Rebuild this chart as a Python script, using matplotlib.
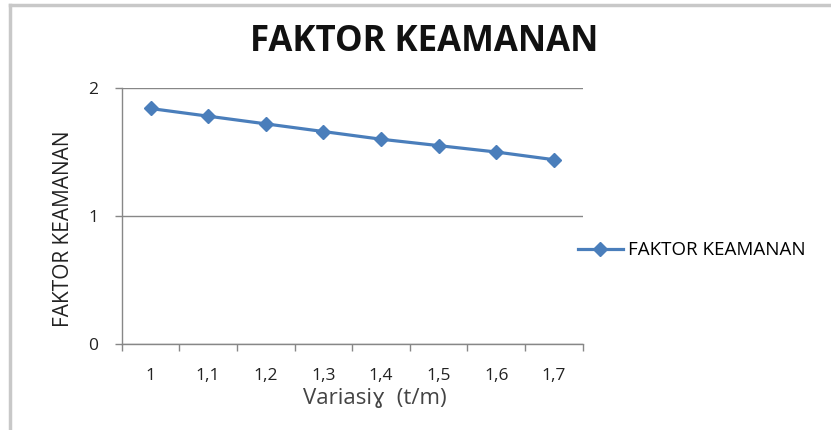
"""Line chart of the safety factor against gamma variation."""

import matplotlib
matplotlib.use("Agg")
import matplotlib.pyplot as plt
import numpy as np
from matplotlib.lines import Line2D

variasi_labels = ["1", "1,1", "1,2", "1,3", "1,4", "1,5", "1,6", "1,7"]
faktor_keamanan = [1.84, 1.78, 1.72, 1.66, 1.60, 1.55, 1.50, 1.44]

BLUE = "#4a7ebb"
GRID = "#878787"

plt.rcParams["font.family"] = ["Open Sans", "DejaVu Sans"]

fig = plt.figure(figsize=(8.31, 4.30), dpi=100)
ax = fig.add_axes([0.1465, 0.2, 0.5547, 0.5953])

x = np.arange(len(faktor_keamanan))
ax.plot(x, faktor_keamanan, color=BLUE, linewidth=2.3, marker="D",
        markersize=7, label="FAKTOR KEAMANAN")

ax.set_xlim(-0.5, len(x) - 0.5)
ax.set_ylim(0, 2)
ax.set_yticks([0, 1, 2])
ax.yaxis.grid(True, color=GRID, linewidth=1.0)
ax.set_axisbelow(True)

# category axis: tick marks between categories, labels in the middle
ax.set_xticks(np.arange(len(x) + 1) - 0.5)
ax.set_xticklabels([])
ax.set_xticks(x, minor=True)
ax.set_xticklabels(variasi_labels, minor=True, fontsize=12.5,
                   color="#222222")
ax.tick_params(axis="x", which="major", length=5, color=GRID, width=1)
ax.tick_params(axis="x", which="minor", length=0, pad=17)
ax.tick_params(axis="y", length=5, color=GRID, width=1, labelsize=12.5,
               labelcolor="#222222", pad=12)

for side in ["top", "right"]:
    ax.spines[side].set_visible(False)
for side in ["left", "bottom"]:
    ax.spines[side].set_color(GRID)
    ax.spines[side].set_linewidth(1.0)

ax.set_ylabel("FAKTOR KEAMANAN", fontsize=15, color="#222222")
ax.yaxis.set_label_coords(-0.103, 0.45)
ax.set_xlabel("Variasi\u0263  (t/m)", fontsize=16, color="#444444")
ax.xaxis.set_label_coords(0.55, -0.17)
fig.text(0.511, 0.902, "FAKTOR KEAMANAN", ha="center", va="center",
         fontsize=25, fontweight="bold", color="#111111")

handle = Line2D([], [], color=BLUE, linewidth=2.3, marker="D", markersize=7)
fig.legend([handle], ["FAKTOR KEAMANAN"], loc="center left",
           bbox_to_anchor=(0.675, 0.418), frameon=False, fontsize=13.5,
           handlelength=2.4, handletextpad=0.3)

# chart frame (top and left edges visible)
fig.add_artist(Line2D([0.012, 1.0], [0.988, 0.988], color="#c8c8c8",
                      linewidth=2.5, transform=fig.transFigure))
fig.add_artist(Line2D([0.012, 0.012], [0.0, 0.988], color="#c8c8c8",
                      linewidth=2.5, transform=fig.transFigure))

fig.savefig("out.png", dpi=100)
